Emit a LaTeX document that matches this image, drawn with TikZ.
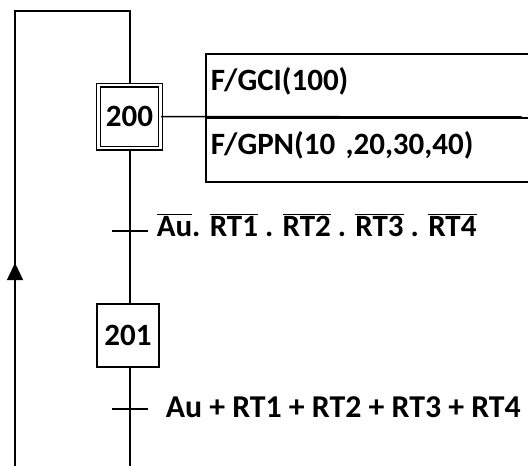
\documentclass[tikz,border=0pt]{standalone}
\usepackage{fontspec}
\setmainfont{Carlito}
\usetikzlibrary{arrows.meta, decorations.markings}
\newcommand{\nonsig}[1]{$\overline{\mbox{#1}}$}

\begin{document}
\begin{tikzpicture}[x=1pt, y=-1pt, line width=1.5pt,
  every node/.style={font=\fontsize{31}{36}\selectfont\bfseries},
  etape/.style={draw, minimum width=62pt, minimum height=63pt, inner sep=0pt},
  initiale/.style={etape, double, line width=1.3pt, double distance=2.4pt},
  action/.style={draw, minimum width=335pt, minimum height=64pt, anchor=north west,
    inner xsep=1.5pt, inner ysep=3pt, text width=325pt, align=left,
    text height=23pt, text depth=13pt},
  remonte/.style={postaction={decorate, decoration={markings,
    mark=at position 203pt with {\arrow{Triangle[width=16pt, length=17pt]}}}}},
]
  \useasboundingbox (0,0) rectangle (528,466);
  % etapes
  \node[initiale] (s200) at (129.5,116.5) {200};
  \node[etape]    (s201) at (128,335.5)   {201};
  % actions associees a l'etape 200
  \node[action] (act1) at (205,53)  {F/GCI(100)};
  \node[action] (act2) at (205,117) {F/GPN(10 ,20,30,40)};
  \draw (s200.east) -- (522,117);
  % liaisons
  \coordinate (bas) at (130,466);
  \coordinate (retour) at (15,466);
  \draw (s200.south -| 130,0) -- (s201.north -| 130,0);
  \draw (s201.south -| 130,0) -- (bas);
  \draw[remonte] (retour) -- (15,11) -- (130,11) -- (s200.north -| 130,0);
  % transitions
  \coordinate (t1) at (130,231);
  \coordinate (t2) at (130,409);
  \draw (112,231) -- (148,231);
  \draw (112,409) -- (148,409);
  \node[anchor=west, inner sep=0pt] at (156,225)
    {\nonsig{Au}. \nonsig{RT1} . \nonsig{RT2} . \nonsig{RT3} . \nonsig{RT4}};
  \node[anchor=west, inner sep=0pt] at (165,407)
    {\fontsize{31.8}{36}\selectfont Au + RT1 + RT2 + RT3 + RT4};
\end{tikzpicture}
\end{document}
